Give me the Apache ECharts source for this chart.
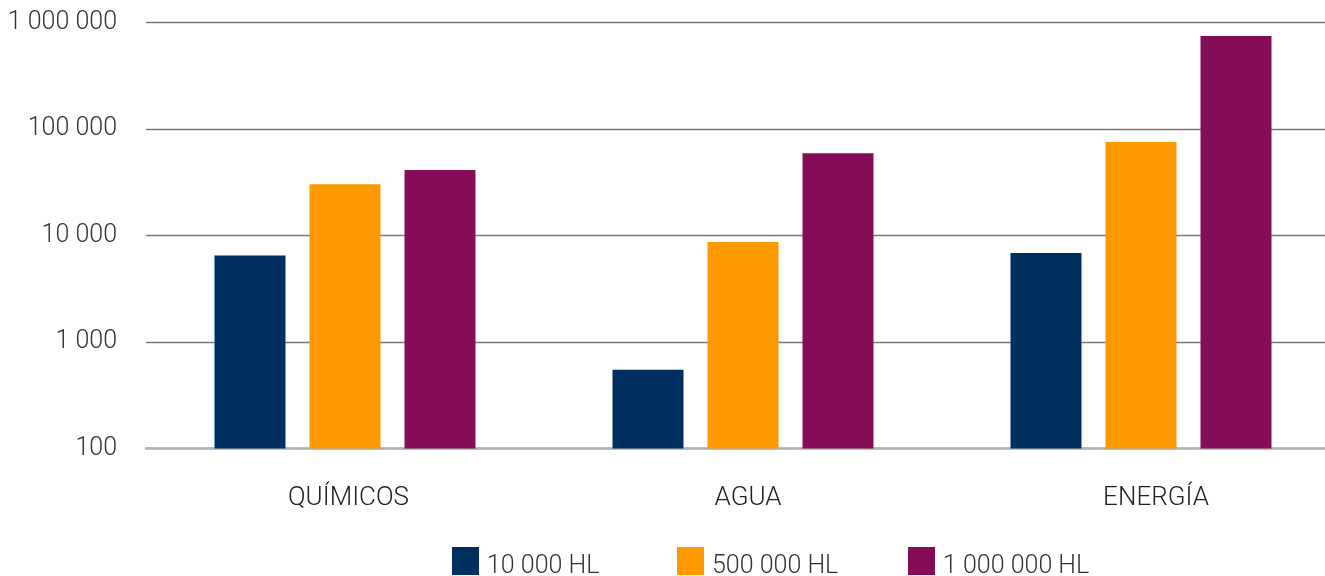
<!DOCTYPE html>
<html>
<head>
<meta charset="utf-8">
<script src="https://cdn.jsdelivr.net/npm/echarts@6/dist/echarts.min.js"></script>
<style>
html,body{margin:0;padding:0;background:#fff;overflow:hidden;width:1325px;height:576px;}
#chart{width:1345px;height:576px;}
</style>
</head>
<body>
<div id="chart"></div>
<script>
const categories = ['QUÍMICOS', 'AGUA', 'ENERGÍA'];
const seriesNames = ['10 000 HL', '500 000 HL', '1 000 000 HL'];
const hl10k = [6500, 550, 6850];
const hl500k = [30300, 8700, 75500];
const hl1m = [41200, 59300, 747000];
const yTicks = [100, 1000, 10000, 100000, 1000000];
const colors = ['#00305f', '#ff9900', '#850c56'];

const FONT = 'Roboto, "Noto Sans", sans-serif';
const labelShift = {'QUÍMICOS': 7, 'AGUA': 10, 'ENERGÍA': 30};

const chart = echarts.init(document.getElementById('chart'), null, {renderer: 'canvas'});
const fmt = v => String(Math.round(v)).replace(/\B(?=(\d{3})+(?!\d))/g, ' ');

const legendPos = [452, 677, 908];
const seriesData = [hl10k, hl500k, hl1m];

chart.setOption({
  animation: false,
  backgroundColor: '#fff',
  textStyle: {fontFamily: FONT},
  legend: seriesNames.map((n, i) => ({
    data: [n],
    left: legendPos[i],
    top: 547,
    padding: 0,
    itemWidth: 27,
    itemHeight: 28,
    icon: 'rect',
    formatter: name => `{t|${name}}`,
    textStyle: {
      rich: {t: {fontFamily: FONT, fontSize: 25, fontWeight: 300, color: '#333', padding: [11, 0, 0, 3]}}
    }
  })),
  grid: {left: 146, width: 1194, top: 22.5, bottom: 127.5, containLabel: false},
  xAxis: {
    type: 'category',
    data: categories,
    axisTick: {show: false},
    axisLine: {show: true, onZero: false, lineStyle: {color: '#b3b3b3', width: 2.5}},
    axisLabel: {
      margin: 37,
      formatter: v => `{s${categories.indexOf(v)}|${v}}`,
      rich: Object.fromEntries(categories.map((c, i) => [
        's' + i,
        {fontFamily: FONT, fontSize: 26, fontWeight: 300, color: '#222', padding: [0, 0, 0, labelShift[c]]}
      ]))
    }
  },
  yAxis: {
    type: 'log',
    logBase: 10,
    min: yTicks[0],
    max: yTicks[yTicks.length - 1],
    axisLine: {show: false},
    axisTick: {show: false},
    splitLine: {lineStyle: {color: '#7a7a7a', width: 1.3}},
    axisLabel: {
      margin: 29,
      fontFamily: FONT, fontSize: 25, fontWeight: 300, color: '#333',
      formatter: v => fmt(v)
    }
  },
  series: seriesNames.map((n, i) => ({
    name: n,
    type: 'bar',
    data: seriesData[i],
    barWidth: 71,
    barGap: '33.8%',
    itemStyle: {color: colors[i]}
  }))
});
</script>
</body>
</html>
